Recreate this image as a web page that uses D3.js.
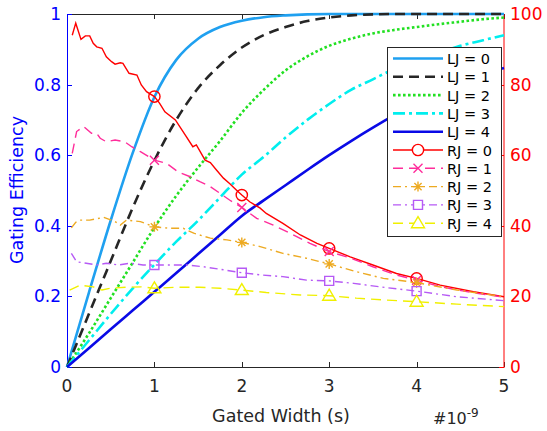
<!DOCTYPE html>
<html>
<head>
<meta charset="utf-8">
<script src="https://cdn.jsdelivr.net/npm/d3@7"></script>
<style>
  body { margin: 0; background: #fff; }
  svg { font-family: "DejaVu Sans", sans-serif; }
</style>
</head>
<body>
<svg width="547" height="431"></svg>
<script>
// gated width grid (ns) for the LJ efficiency curves
var tGrid = [0, 0.25, 0.5, 0.75, 1, 1.25, 1.5, 1.75, 2, 2.25, 2.5, 2.75, 3, 3.25, 3.5, 3.75, 4, 4.25, 4.5, 4.75, 5];
var lj0 = [0, 0.21, 0.415, 0.605, 0.765, 0.87, 0.93, 0.963, 0.981, 0.991, 0.996, 0.999, 1, 1, 1, 1, 1, 1, 1, 1, 1];
var lj1 = [0, 0.15, 0.30, 0.45, 0.585, 0.70, 0.79, 0.855, 0.905, 0.94, 0.963, 0.98, 0.99, 0.996, 0.999, 1, 1, 1, 1, 1, 1];
var lj2 = [0, 0.095, 0.195, 0.295, 0.395, 0.485, 0.565, 0.64, 0.72, 0.785, 0.84, 0.88, 0.91, 0.93, 0.945, 0.955, 0.963, 0.971, 0.978, 0.985, 0.99];
var lj3 = [0, 0.075, 0.15, 0.222, 0.29, 0.355, 0.415, 0.48, 0.545, 0.595, 0.65, 0.70, 0.745, 0.785, 0.815, 0.845, 0.87, 0.89, 0.91, 0.925, 0.94];
var lj4 = [0, 0.053, 0.107, 0.16, 0.213, 0.266, 0.32, 0.374, 0.428, 0.472, 0.515, 0.558, 0.60, 0.64, 0.678, 0.714, 0.748, 0.778, 0.806, 0.829, 0.847];

// RJ curves (right axis), noisy, own sample points
var rj0T = [0.06, 0.10, 0.16, 0.21, 0.26, 0.30, 0.34, 0.40, 0.45, 0.51, 0.55, 0.61, 0.64, 0.71, 0.80, 0.85, 0.91, 1.00, 1.06, 1.12, 1.24, 1.35, 1.44, 1.48, 1.58, 1.64, 1.71, 1.79, 1.86, 1.94, 2.00, 2.09, 2.21, 2.28, 2.47, 2.67, 2.86, 3.00, 3.24, 3.50, 3.77, 4.00, 4.27, 4.65, 5.00];
var rj0V = [94.0, 97.4, 92.8, 93.8, 93.8, 91.7, 90.7, 90.3, 87.9, 86.5, 85.8, 86.2, 86.0, 83.2, 82.7, 79.9, 78.0, 76.6, 74.7, 72.3, 70.0, 65.8, 62.4, 62.9, 58.6, 57.9, 55.8, 53.5, 52.0, 50.1, 48.7, 46.8, 45.0, 43.5, 40.7, 37.4, 35.0, 33.6, 31.2, 28.9, 26.5, 25.1, 23.2, 21.3, 19.9];
var rj1T = [0.06, 0.11, 0.19, 0.28, 0.34, 0.38, 0.45, 0.55, 0.66, 0.74, 0.84, 1.00, 1.14, 1.27, 1.41, 1.52, 1.64, 1.75, 1.86, 2.00, 2.17, 2.36, 2.55, 2.78, 3.00, 3.25, 3.50, 3.75, 4.00, 4.30, 4.65, 5.00];
var rj1V = [60.5, 66.7, 68.1, 66.2, 66.2, 64.8, 63.8, 64.3, 63.8, 62.4, 61.0, 58.6, 57.7, 55.3, 53.9, 52.5, 51.1, 49.2, 47.3, 45.2, 42.1, 40.2, 37.9, 35.0, 32.7, 30.8, 28.4, 26.2, 24.6, 22.6, 21.0, 19.8];
var rj2T = [0.05, 0.10, 0.15, 0.26, 0.42, 0.55, 0.61, 0.68, 0.84, 1.00, 1.18, 1.33, 1.45, 1.64, 1.83, 2.00, 2.21, 2.47, 2.74, 3.00, 3.31, 3.62, 4.00, 4.46, 5.00];
var rj2V = [39.4, 41.0, 41.6, 41.6, 42.4, 41.2, 40.2, 41.6, 41.2, 39.7, 39.3, 39.3, 37.9, 36.5, 36.0, 35.3, 34.1, 32.2, 30.8, 29.2, 27.0, 25.1, 23.9, 21.8, 19.9];
var rj3T = [0.05, 0.11, 0.22, 0.34, 0.45, 0.59, 0.72, 0.87, 1.00, 1.18, 1.37, 1.56, 1.75, 2.00, 2.21, 2.47, 2.74, 3.00, 3.28, 3.58, 4.00, 4.46, 5.00];
var rj3V = [32.2, 29.8, 29.4, 28.9, 29.4, 28.9, 29.4, 28.9, 28.9, 28.9, 28.9, 28.4, 27.7, 26.7, 26.1, 25.6, 24.6, 24.4, 23.7, 22.7, 21.5, 19.9, 18.8];
var rj4T = [0.03, 0.15, 0.30, 0.40, 0.49, 0.68, 0.85, 1.00, 1.25, 1.52, 1.75, 2.00, 2.28, 2.67, 3.00, 3.31, 3.62, 4.00, 4.46, 5.00];
var rj4V = [21.8, 23.2, 22.7, 21.8, 22.3, 22.6, 22.7, 22.3, 22.6, 22.6, 22.3, 21.8, 21.1, 20.4, 20.2, 19.5, 19.0, 18.5, 17.8, 17.1];

var xTicks = [0, 1, 2, 3, 4, 5],
    yTicks = [0, 0.2, 0.4, 0.6, 0.8, 1],
    yrTicks = [0, 20, 40, 60, 80, 100];

var svg = d3.select("svg");
var x = d3.scaleLinear().domain([0, 5]).range([67, 504]),
    y = d3.scaleLinear().domain([0, 1]).range([367, 14]),
    yr = d3.scaleLinear().domain([0, 100]).range([367, 14]);

var ljSeries = [
  {name: "LJ = 0", v: lj0, color: "#1fa0f0", dash: null},
  {name: "LJ = 1", v: lj1, color: "#262626", dash: "10,6"},
  {name: "LJ = 2", v: lj2, color: "#22e022", dash: "2.6,2.4"},
  {name: "LJ = 3", v: lj3, color: "#00eeee", dash: "12,4,3,4"},
  {name: "LJ = 4", v: lj4, color: "#0a0ae6", dash: null}
];
var rjSeries = [
  {name: "RJ = 0", t: rj0T, v: rj0V, color: "#ff0000", dash: null, marker: "circle"},
  {name: "RJ = 1", t: rj1T, v: rj1V, color: "#ff2d9b", dash: "10,6", marker: "x"},
  {name: "RJ = 2", t: rj2T, v: rj2V, color: "#edaa22", dash: "8,4,2,4", marker: "star"},
  {name: "RJ = 3", t: rj3T, v: rj3V, color: "#b65af5", dash: "8,4,2,4", marker: "square"},
  {name: "RJ = 4", t: rj4T, v: rj4V, color: "#f0f000", dash: "10,6", marker: "triangle"}
];

// markers drawn as paths centred at (0,0)
function markerPath(kind) {
  switch (kind) {
    case "circle": return d3.symbol().type(d3.symbolCircle).size(100)();
    case "x": return "M-4.5,-4.5L4.5,4.5M-4.5,4.5L4.5,-4.5";
    case "star": return "M-5,0L5,0M0,-5L0,5M-3.6,-3.6L3.6,3.6M-3.6,3.6L3.6,-3.6";
    case "square": return "M-4.5,-4.5H4.5V4.5H-4.5Z";
    case "triangle": return "M0,-6.5L6.5,4.5L-6.5,4.5Z";
  }
}

// axes box
var axes = svg.append("g");
axes.append("line").attr("x1", 67).attr("x2", 504).attr("y1", 367.5).attr("y2", 367.5).attr("stroke", "#262626");
axes.append("line").attr("x1", 67).attr("x2", 504).attr("y1", 14.5).attr("y2", 14.5).attr("stroke", "#262626");
xTicks.forEach(function(t) {
  axes.append("line").attr("x1", Math.round(x(t)) + 0.5).attr("x2", Math.round(x(t)) + 0.5)
      .attr("y1", 367).attr("y2", 362).attr("stroke", "#262626");
  axes.append("line").attr("x1", Math.round(x(t)) + 0.5).attr("x2", Math.round(x(t)) + 0.5)
      .attr("y1", 14).attr("y2", 19).attr("stroke", "#262626");
  axes.append("text").attr("x", x(t)).attr("y", 392).attr("text-anchor", "middle")
      .attr("font-size", 17).attr("fill", "#262626").text(t);
});

// lines
var lineL = d3.line().x(function(d) { return x(d[0]); }).y(function(d) { return y(d[1]); }).curve(d3.curveMonotoneX);
var lineR = d3.line().x(function(d) { return x(d[0]); }).y(function(d) { return yr(d[1]); });

var plot = svg.append("g");
ljSeries.forEach(function(s) {
  plot.append("path")
      .datum(tGrid.map(function(t, i) { return [t, s.v[i]]; }))
      .attr("d", lineL)
      .attr("fill", "none")
      .attr("stroke", s.color)
      .attr("stroke-width", 2.6)
      .attr("stroke-dasharray", s.dash);
});
rjSeries.forEach(function(s) {
  var pts = s.t.map(function(t, i) { return [t, s.v[i]]; });
  plot.append("path")
      .datum(pts)
      .attr("d", lineR)
      .attr("fill", "none")
      .attr("stroke", s.color)
      .attr("stroke-width", 1.4)
      .attr("stroke-dasharray", s.dash);
  plot.selectAll(null)
      .data(pts.filter(function(p) { return [1, 2, 3, 4].indexOf(p[0]) >= 0; }))
      .enter().append("path")
      .attr("transform", function(d) { return "translate(" + x(d[0]) + "," + yr(d[1]) + ")"; })
      .attr("d", markerPath(s.marker))
      .attr("fill", "none")
      .attr("stroke", s.color)
      .attr("stroke-width", 1.4);
});

// left axis (blue)
axes.append("line").attr("x1", 67.5).attr("x2", 67.5).attr("y1", 14).attr("y2", 368).attr("stroke", "#0000ff");
yTicks.forEach(function(v) {
  axes.append("line").attr("x1", 67).attr("x2", 72).attr("y1", Math.round(y(v)) + 0.5).attr("y2", Math.round(y(v)) + 0.5)
      .attr("stroke", "#0000ff");
  axes.append("text").attr("x", 61).attr("y", y(v) + 6).attr("text-anchor", "end")
      .attr("font-size", 17).attr("fill", "#0000ff").text(v);
});
axes.append("text").attr("transform", "translate(23," + 190 + ") rotate(-90)")
    .attr("text-anchor", "middle").attr("font-size", 17.5).attr("fill", "#0000ff").text("Gating Efficiency");

// right axis (red)
axes.append("line").attr("x1", 504).attr("x2", 504).attr("y1", 14).attr("y2", 368).attr("stroke", "#ff0000");
yrTicks.forEach(function(v) {
  axes.append("line").attr("x1", 504).attr("x2", 499).attr("y1", Math.round(yr(v)) + 0.5).attr("y2", Math.round(yr(v)) + 0.5)
      .attr("stroke", "#ff0000");
  axes.append("text").attr("x", 510).attr("y", yr(v) + 6).attr("text-anchor", "start")
      .attr("font-size", 17).attr("fill", "#ff0000").text(v);
});

// x label + exponent
axes.append("text").attr("x", 281).attr("y", 422).attr("text-anchor", "middle")
    .attr("font-size", 17.5).attr("fill", "#262626").text("Gated Width (s)");
var ex = axes.append("text").attr("x", 433).attr("y", 424).attr("font-size", 16).attr("fill", "#262626");
ex.append("tspan").text("#10");
ex.append("tspan").attr("dy", -7).attr("font-size", 12).text("-9");

// legend
var leg = svg.append("g");
leg.append("rect").attr("x", 387.5).attr("y", 47.5).attr("width", 114).attr("height", 189)
    .attr("fill", "#fff").attr("stroke", "#262626");
var rows = ljSeries.concat(rjSeries);
rows.forEach(function(s, i) {
  var cy = 58.5 + i * 18.3;
  var isL = i < 5;
  leg.append("line").attr("x1", 393).attr("x2", 443).attr("y1", cy).attr("y2", cy)
      .attr("stroke", s.color).attr("stroke-width", isL ? 2.6 : 1.4).attr("stroke-dasharray", s.dash);
  if (!isL) {
    leg.append("path").attr("transform", "translate(418," + cy + ")").attr("d", markerPath(s.marker))
        .attr("fill", "#fff").attr("stroke", s.color).attr("stroke-width", 1.4);
  }
  leg.append("text").attr("x", 447).attr("y", cy + 5.5).attr("font-size", 14.5).attr("fill", "#000").text(s.name);
});
</script>
</body>
</html>
